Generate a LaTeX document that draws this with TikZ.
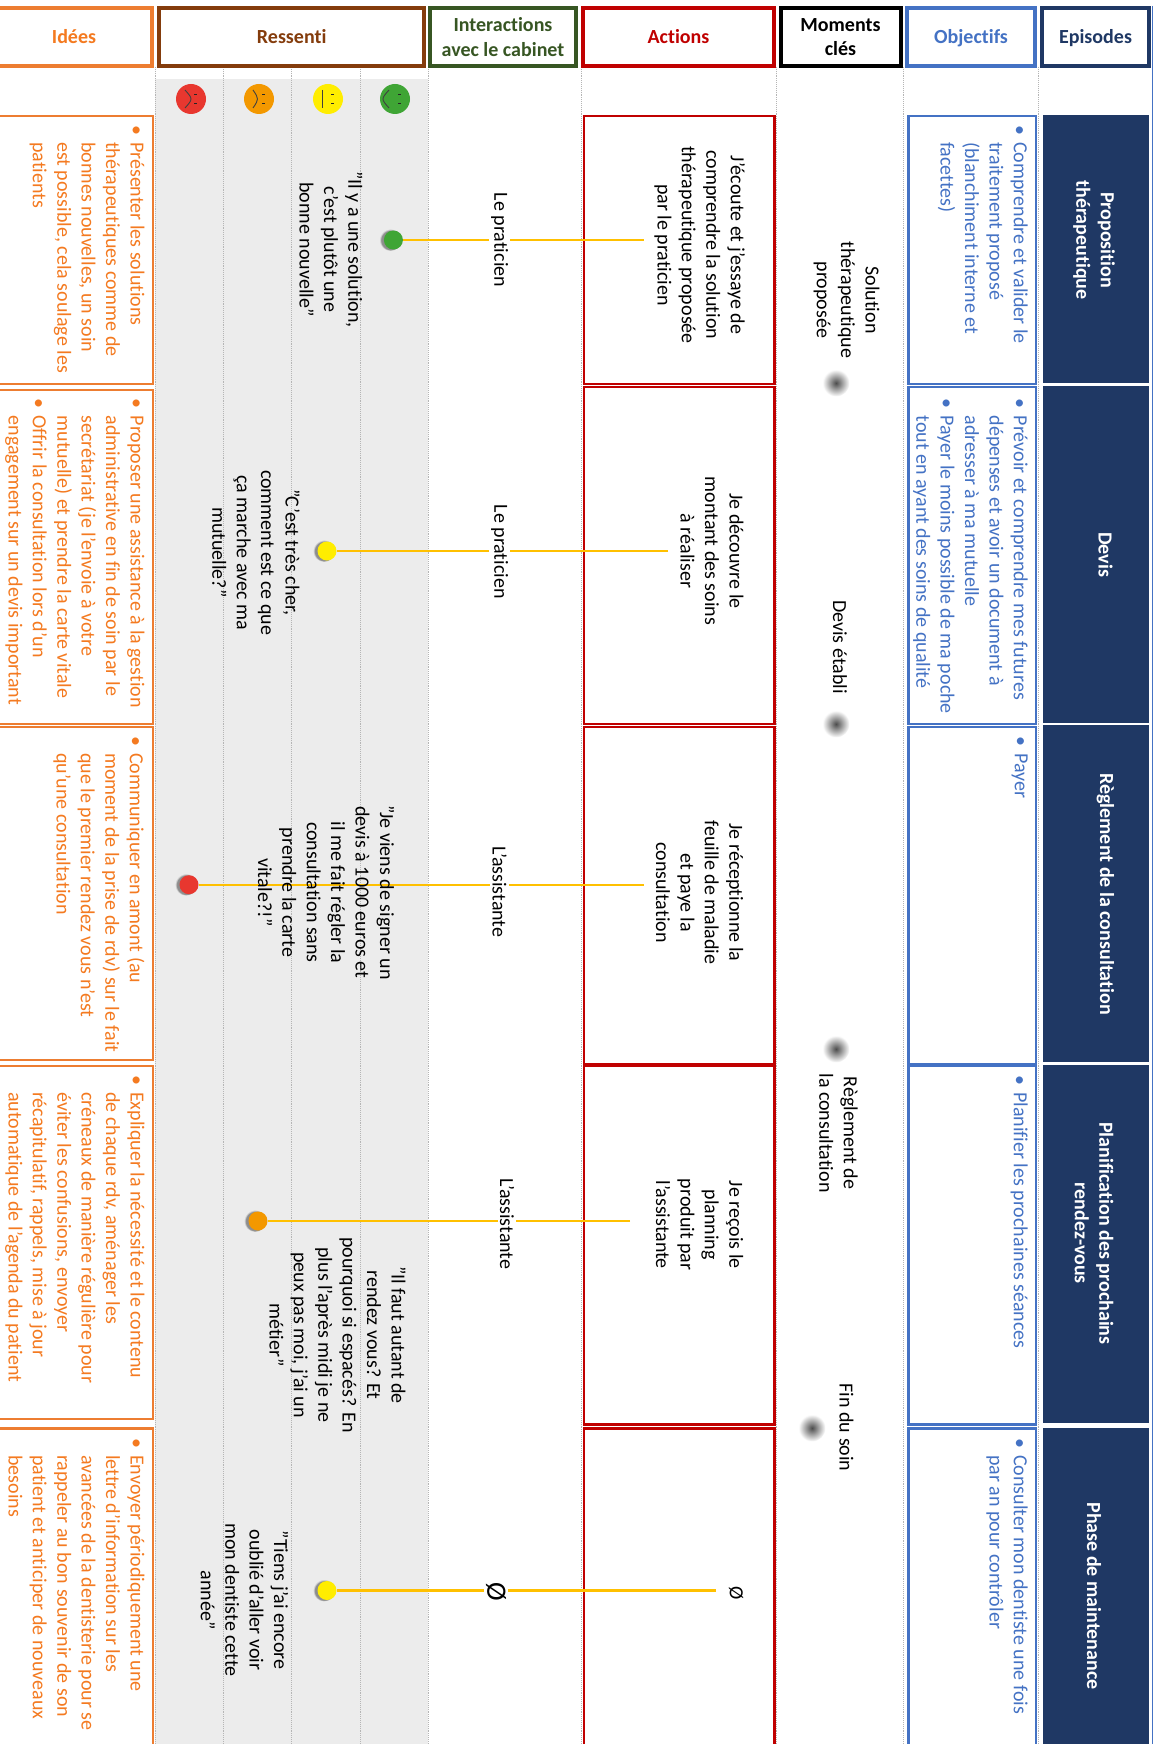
\documentclass[tikz,border=0pt]{standalone}
\usepackage{fontspec}
\setmainfont{Carlito}[Ligatures={NoCommon}]
\usetikzlibrary{calc,shadows}
\definecolor{cidee}{HTML}{ED7D31}
\definecolor{cideetxt}{HTML}{F47A20}
\definecolor{cress}{HTML}{843C0C}
\definecolor{cinter}{HTML}{375623}
\definecolor{cact}{HTML}{C00000}
\definecolor{cobj}{HTML}{4472C4}
\definecolor{cepi}{HTML}{1F3864}
\definecolor{cband}{HTML}{ECECEC}
\definecolor{cdash}{HTML}{B5B5B5}
\definecolor{cline}{HTML}{FFC000}
\definecolor{sred}{HTML}{E8372F}
\definecolor{sorange}{HTML}{F39800}
\definecolor{syellow}{HTML}{FFED00}
\definecolor{sgreen}{HTML}{3FA535}
\newcommand{\bu}{\makebox[17pt][l]{•}}
\newcommand{\ind}{\hspace*{17pt}}
\newcommand{\hone}[1]{\smash{#1}\rule{0pt}{14pt}}
\tikzset{
  txt/.style={font=\fontsize{20}{24.4}\selectfont,inner sep=0pt,align=center},
  vtxt/.style={txt,rotate=-90},
  quote/.style={vtxt},
  lab/.style={vtxt,fill=white,inner xsep=2pt,inner ysep=2pt},
  epi/.style={vtxt,text=white,font=\fontsize{20}{24.4}\selectfont\bfseries},
  lst/.style={txt,rotate=-90,anchor=north west,align=left},
  idt/.style={lst,text=cideetxt},
  obt/.style={lst,text=cobj},
  hdr/.style={txt,draw,line width=4pt,fill=white,font=\fontsize{20}{24.4}\selectfont\bfseries,minimum height=57.5pt},
  frame/.style={draw,line width=2.2pt,fill=white,anchor=north west,inner sep=0pt},
  epibox/.style={fill=cepi,anchor=north west,inner sep=0pt},
  sep/.style={cdash,line width=0.9pt,densely dotted},
  conn/.style={cline,line width=2.3pt},
  smile/.style={circle,minimum size=30pt,inner sep=0pt},
  eye/.style={black!85,line width=1pt},
  mouth/.style={black!75,line width=0.9pt},
  ddot/.style={circle,minimum size=19pt,inner sep=0pt,
    circular drop shadow={shadow xshift=-2.5pt,shadow yshift=0pt,shadow scale=1.15,opacity=.4,fill=black}},
  mdot/.style={circle,minimum size=27pt,inner sep=0pt,shading=radial,inner color=black!70,outer color=white},
}
\begin{document}
\begin{tikzpicture}[x=1pt,y=-1pt]
\clip (0,0) rectangle (1157,1744);
\fill[white] (0,0) rectangle (1157,1744);
% band
\fill[cband] (155,79) rectangle (428,1744);
\foreach \xx in {155,223.5,291.5,360,428,581,776.5,903.7,1038}
  \draw[sep] (\xx,67) -- (\xx,1744);
\draw[cobj,line width=1pt] (1152,6) -- (1152,1744);
% headers
\node[hdr,draw=cidee,minimum width=172pt] (hidee) at (66,37) {};
\node[txt,text=cideetxt,font=\fontsize{20}{24.4}\selectfont\bfseries] (tidee) at (74,37) {\hone{Idées}};
\node[hdr,draw=cress,text=cress,minimum width=265.5pt] (hress) at (291.7,37) {\hone{Ressenti}};
\node[hdr,draw=cinter,text=cinter,minimum width=146pt] (hint) at (503,37) {Interactions\\avec le cabinet};
\node[hdr,draw=cact,text=cact,minimum width=191pt] (hact) at (678.5,37) {\hone{Actions}};
\node[hdr,draw=black,text=black,minimum width=120pt] (hmom) at (840.5,37) {Moments\\clés};
\node[hdr,draw=cobj,text=cobj,minimum width=128pt] (hobj) at (971,37) {\hone{Objectifs}};
\node[hdr,draw=cepi,text=cepi,minimum width=107pt] (hepi) at (1095.5,37) {\hone{Episodes}};
% smileys
\foreach \nm/\xx/\col/\bend in {sa/191/sred/8,sb/259/sorange/6,sc/328/syellow/0,sd/395/sgreen/-8}{
  \node[smile,fill=\col] (\nm) at (\xx,99) {};
  \draw[eye] ([shift={(3,-4.2)}]\nm.center) -- ++(3,0);
  \draw[eye] ([shift={(3,4.2)}]\nm.center) -- ++(3,0);
  \draw[mouth] ([shift={(-6,-9)}]\nm.center) .. controls ([shift={(-6+\bend,0)}]\nm.center) .. ([shift={(-6,9)}]\nm.center);
}
% episode boxes
\foreach \nm/\ya/\yb in {1/115/382.5,2/386/722.7,3/725/1062,4/1065/1423,5/1428/1750}{
  \node[epibox,minimum width=106pt,minimum height={\yb-\ya}] (e\nm) at (1042.3,\ya) {};
}
% frames
\foreach \nm/\ya/\yb in {1/115/382.5,2/388.8/722.7,3/725.7/1059,4/1065/1417.8,5/1427.4/1743.5}{
  \node[frame,draw=cidee,minimum width=160pt,minimum height={\yb-\ya}] (i\nm) at (-8.3,\ya) {};
}
\foreach \nm/\ya/\yb in {1/115/382.7,2/385.7/723,3/725.5/1062.5,4/1065/1423.4,5/1427.4/1760}{
  \node[frame,draw=cact,minimum width=190.4pt,minimum height={\yb-\ya}] (a\nm) at (583,\ya) {};
  \node[frame,draw=cobj,minimum width=127.7pt,minimum height={\yb-\ya}] (o\nm) at (907.3,\ya) {};
}
% moment dots
\node[mdot] (m1) at (836,383) {};
\node[mdot] (m2) at (836,724) {};
\node[mdot] (m3) at (836,1049) {};
\node[mdot] (m4) at (812,1428) {};
% connector ends and dots
\coordinate (c1) at (643.5,240);
\coordinate (c2) at (668,551);
\coordinate (c3) at (643.5,884.7);
\coordinate (c4) at (630,1221);
\coordinate (c5) at (716,1590.5);
\node[ddot,fill=sgreen] (d1) at (393.4,240) {};
\node[ddot,fill=syellow] (d2) at (327,551) {};
\node[ddot,fill=sred] (d3) at (189,884.7) {};
\node[ddot,fill=sorange] (d4) at (258,1221) {};
\node[ddot,fill=syellow] (d5) at (327,1590.5) {};
\foreach \n in {1,...,5} \draw[conn] (c\n) -- (d\n);
% interaction labels
\node[lab] (l1) at (499.6,240) {Le praticien};
\node[lab] (l2) at (499.6,551.7) {Le praticien};
\node[lab] (l3) at (499.6,892) {L’assistante};
\node[lab] (l4) at (507,1224) {L’assistante};
\node[lab,font=\fontsize{28}{30}\selectfont] (l5) at (496,1591.4) {Ø};
% actions
\node[vtxt] (t1) at (699.6,245) {J’écoute et j’essaye de\\comprendre la solution\\thérapeutique proposée\\par le praticien};
\node[vtxt] (t2) at (712,551) {Je découvre le\\montant des soins\\à réaliser};
\node[vtxt] (t3) at (699.6,892.5) {Je réceptionne la\\feuille de maladie\\et paye la\\consultation};
\node[vtxt] (t4) at (699.6,1224.7) {Je reçois le\\planning\\produit par\\l’assistante};
\node[vtxt] (t5) at (736,1593) {Ø};
% moments
\node[vtxt] (n1) at (846.5,300) {Solution\\thérapeutique\\proposée};
\node[vtxt] (n2) at (840,647) {Devis établi};
\node[vtxt] (n3) at (838.5,1133) {Règlement de\\la consultation};
\node[vtxt] (n4) at (846.5,1427.6) {Fin du soin};
% quotes
\node[quote] (q1) at (331,249.5) {"Il y a une solution,\\c’est plutôt une\\bonne nouvelle"};
\node[quote] (q2) at (256,552.5) {"C’est très cher,\\comment est ce que\\ça marche avec ma\\mutuelle?"};
\node[quote] (q3) at (326,892.5) {"Je viens de signer un\\devis à 1000 euros et\\il me fait régler la\\consultation sans\\prendre la carte\\vitale?!"};
\node[quote] (q4) at (337.5,1335) {"Il faut autant de\\rendez vous? Et\\pourquoi si espacés? En\\plus l’après midi je ne\\peux pas moi, j’ai un\\métier"};
\node[quote] (q5) at (244.5,1600) {"Tiens j’ai encore\\oublié d’aller voir\\mon dentiste cette\\année"};
% episodes
\node[epi] (et1) at (1094,240) {Proposition\\thérapeutique};
\node[epi] (et2) at (1105.5,554.7) {Devis};
\node[epi] (et3) at (1105.5,894) {Règlement de la consultation};
\node[epi] (et4) at (1094,1233.4) {Planification des prochains\\rendez-vous};
\node[epi] (et5) at (1094,1596) {Phase de maintenance};
% objectifs
\node[obt] (ob1) at (1028,125) {\bu Comprendre et valider le\\\ind traitement proposé\\\ind (blanchiment interne et\\\ind facettes)};
\node[obt] (ob2) at (1028,398.5) {\bu Prévoir et comprendre mes futures\\\ind dépenses et avoir un document à\\\ind adresser à ma mutuelle\\\bu Payer le moins possible de ma poche\\\ind tout en ayant des soins de qualité};
\node[obt] (ob3) at (1028,736) {\bu Payer};
\node[obt] (ob4) at (1028,1075) {\bu Planifier les prochaines séances};
\node[obt] (ob5) at (1028,1438) {\bu Consulter mon dentiste une fois\\\ind par an pour contrôler};
% idees
\node[idt] (id1) at (144.6,125) {\bu Présenter les solutions\\\ind thérapeutiques comme de\\\ind bonnes nouvelles, un soin\\\ind est possible, cela soulage les\\\ind patients};
\node[idt] (id2) at (144.6,398.5) {\bu Proposer une assistance à la gestion\\\ind administrative en fin de soin par le\\\ind secrétariat (je l’envoie à votre\\\ind mutuelle) et prendre la carte vitale\\\bu Offrir la consultation lors d’un\\\ind engagement sur un devis important};
\node[idt] (id3) at (144.6,736) {\bu Communiquer en amont (au\\\ind moment de la prise de rdv) sur le fait\\\ind que le premier rendez vous n’est\\\ind qu’une consultation};
\node[idt] (id4) at (144.6,1075) {\bu Expliquer la nécessité et le contenu\\\ind de chaque rdv, aménager les\\\ind créneaux de manière régulière pour\\\ind éviter les confusions, envoyer\\\ind récapitulatif, rappels, mise à jour\\\ind automatique de l’agenda du patient};
\node[idt] (id5) at (144.6,1438) {\bu Envoyer périodiquement une\\\ind lettre d’information sur les\\\ind avancées de la dentisterie pour se\\\ind rappeler au bon souvenir de son\\\ind patient et anticiper de nouveaux\\\ind besoins};
\end{tikzpicture}
\end{document}
